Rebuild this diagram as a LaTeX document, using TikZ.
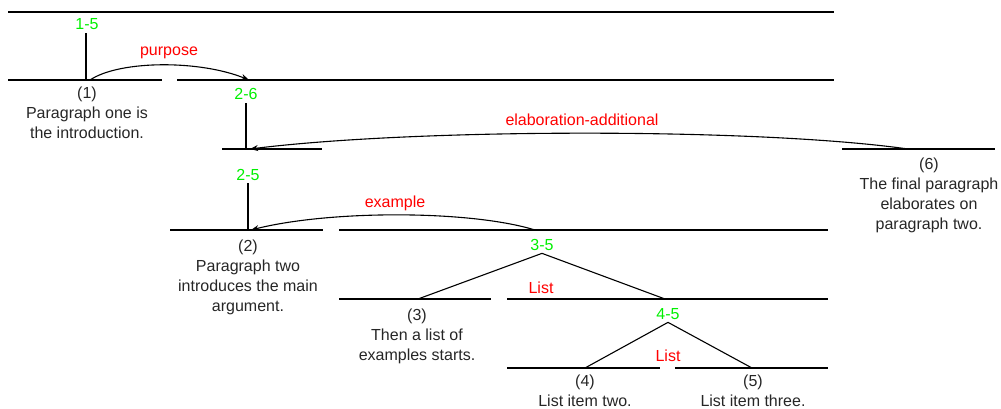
\documentclass[tikz,border=0pt]{standalone}
\usepackage{fontspec}
\setmainfont{Liberation Sans}
\usetikzlibrary{arrows.meta}
\definecolor{spangreen}{RGB}{0,240,0}
\definecolor{relred}{RGB}{255,0,0}
\tikzset{
  hline/.style={line width=1.7pt},
  vline/.style={line width=1.6pt},
  diag/.style={line width=1.1pt},
  relarc/.style={line width=1.1pt,-{Stealth[length=8pt,width=6pt]}},
  span/.style={font=\fontsize{16}{20}\selectfont,text=spangreen,anchor=base,inner sep=3pt},
  rel/.style={font=\fontsize{16}{20}\selectfont,text=relred,anchor=base,inner sep=0pt},
  leaf/.style={font=\fontsize{16}{20}\selectfont,align=center,anchor=north,inner sep=0pt,text=black!85}
}
\begin{document}
\begin{tikzpicture}[x=1pt,y=-1pt]
\useasboundingbox (0,0) rectangle (1001,409);
% horizontal line end points
\coordinate (h0a) at (8,12);   \coordinate (h0b) at (834,12);
\coordinate (h1a) at (8,80);   \coordinate (h1b) at (162,80);
\coordinate (h1c) at (177,80); \coordinate (h1d) at (834,80);
\coordinate (h2a) at (222,149);\coordinate (h2b) at (322,149);
\coordinate (h6a) at (842,149);\coordinate (h6b) at (995,149);
\coordinate (h3a) at (170,230);\coordinate (h3b) at (323,230);
\coordinate (h3c) at (339,230);\coordinate (h3d) at (828,230);
\coordinate (h4a) at (339,299);\coordinate (h4b) at (491,299);
\coordinate (h4c) at (507,299);\coordinate (h4d) at (828,299);
\coordinate (h5a) at (507,368);\coordinate (h5b) at (660,368);
\coordinate (h5c) at (675,368);\coordinate (h5d) at (828,368);
\draw[hline] (h0a) -- (h0b);
\draw[hline] (h1a) -- (h1b);
\draw[hline] (h1c) -- (h1d);
\draw[hline] (h2a) -- (h2b);
\draw[hline] (h6a) -- (h6b);
\draw[hline] (h3a) -- (h3b);
\draw[hline] (h3c) -- (h3d);
\draw[hline] (h4a) -- (h4b);
\draw[hline] (h4c) -- (h4d);
\draw[hline] (h5a) -- (h5b);
\draw[hline] (h5c) -- (h5d);
% span labels
\node[span] (s15) at (87,30) {1-5};
\node[span] (s26) at (246,100) {2-6};
\node[span] (s25) at (248,180) {2-5};
\node[span] (s35) at (542,250) {3-5};
\node[span] (s45) at (668,319) {4-5};
% attach points
\coordinate (p1) at (86,80);
\coordinate (p26) at (246,149);
\coordinate (p25) at (248,230);
\coordinate (p3) at (418,299);
\coordinate (p45) at (665,299);
\coordinate (p4) at (585,368);
\coordinate (p5) at (752,368);
\draw[vline] (s15.south -| p1) -- (p1);
\draw[vline] (s26.south) -- (p26);
\draw[vline] (s25.south) -- (p25);
\draw[diag] (s35.south) -- (p3);
\draw[diag] (s35.south) -- (p45);
\draw[diag] (s45.south) -- (p4);
\draw[diag] (s45.south) -- (p5);
% relation labels
\node[rel] (rpur) at (169,56) {purpose};
\node[rel] (rela) at (582,125) {elaboration-additional};
\node[rel] (rex) at (395,207) {example};
\node[rel] (rl1) at (541,293) {List};
\node[rel] (rl2) at (668,361) {List};
% relation arcs
\coordinate (apur0) at (90,80);   \coordinate (apur1) at (249,80);
\coordinate (aela0) at (908,149); \coordinate (aela1) at (250,149);
\coordinate (aex0) at (535,230);  \coordinate (aex1) at (251,230);
\draw[relarc] (apur0) .. controls (120,60) and (200,60) .. (apur1);
\draw[relarc] (aela0) .. controls (760,128) and (420,128) .. (aela1);
\draw[relarc] (aex0) .. controls (470,210) and (330,210) .. (aex1);
% leaf texts
\node[leaf] (t1) at (87,84) {\strut(1)\\Paragraph one is\\the introduction.};
\node[leaf] (t6) at (929,155) {\strut(6)\\The final paragraph\\elaborates on\\paragraph two.};
\node[leaf] (t2) at (248,237) {\strut(2)\\Paragraph two\\introduces the main\\argument.};
\node[leaf] (t3) at (417,306) {\strut(3)\\Then a list of\\examples starts.};
\node[leaf] (t4) at (585,372) {\strut(4)\\List item two.};
\node[leaf] (t5) at (753,372) {\strut(5)\\List item three.};
\end{tikzpicture}
\end{document}
